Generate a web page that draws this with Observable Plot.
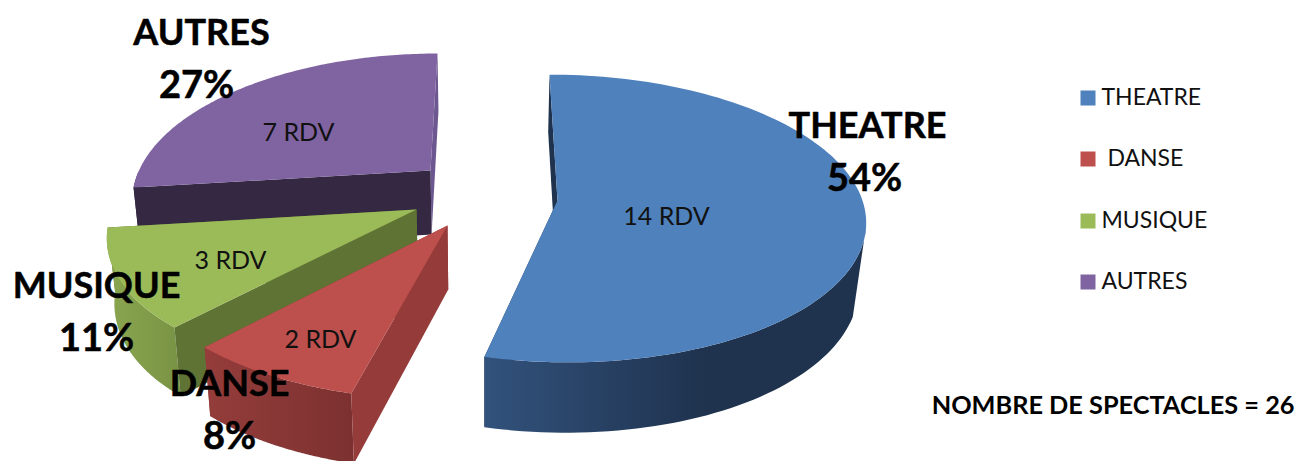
<!DOCTYPE html>
<html>
<head>
<meta charset="utf-8">
<script src="https://cdn.jsdelivr.net/npm/d3@7"></script>
<script src="https://cdn.jsdelivr.net/npm/@observablehq/plot@0.6"></script>
<style>
  html, body { margin: 0; padding: 0; background: #fff; }
  svg { display: block; }
</style>
</head>
<body>
<div id="chart"></div>
<script>
// ---- data
const categories = ["THEATRE", "DANSE", "MUSIQUE", "AUTRES"];
const counts = [14, 2, 3, 7];
const percentLabels = ["54%", "8%", "11%", "27%"];
const legendLabels = ["THEATRE", " DANSE", "MUSIQUE", "AUTRES"];
const totalLabel = "NOMBRE DE SPECTACLES = 26";

// ---- colours
const topColors = ["#4f81bd", "#bd4f4c", "#9bbb59", "#8064a2"];
const startWallColors = ["#1f334f", "#953b3a", "#5f7335", "#342843"];
const endWallColors = ["#1f334f", "#953b3a", "#5f7335", "#6c5790"];
const rimFills = ["url(#rim0)", "url(#rim1)", "url(#rim2)", "#342843"];

// ---- 3D look: per-slice projection of the exploded pie
const projection = [
  {ox: 557, oy: 200, a: 305, b: 141.6, k: 0.125, sh: -9, rimTopMax: -0.17, rimLowMax: -0.33},
  {ox: 447, oy: 225, a: 302, b: 136, k: 0.22, sh: 3.5, rimTopMax: 0, rimLowMax: 0},
  {ox: 416, oy: 209, a: 304, b: 148.6, k: 0.076, sh: 35.6, rimTopMax: 0, rimLowMax: 0},
  {ox: 430, oy: 170, a: 291.5, b: 138.5, k: 0.184, sh: 8.3, rimTopMax: 0, rimLowMax: 0}
];
const depth = 64, depthTilt = 0.1, vanishX = 484, vanishF = 0.02;
const paintOrder = [3, 0, 2, 1];

const total = d3.sum(counts);
const cumulative = d3.cumsum(counts);
const angleRange = i => [
  ((i === 0 ? 0 : cumulative[i - 1]) / total) * 2 * Math.PI,
  (cumulative[i] / total) * 2 * Math.PI
];

function rimTop(i, t) {
  const p = projection[i], c = Math.cos(t), s = Math.sin(t), f = 1 / (1 + p.k * c);
  return {x: p.ox + (p.a * s + p.sh * c) * f, y: p.oy - p.b * c * f, c};
}
function lower(pt, c) {
  return {x: pt.x - (pt.x - vanishX) * vanishF, y: pt.y + depth * (1 - depthTilt * c), c};
}
function apexTop(i) { return {x: projection[i].ox, y: projection[i].oy}; }

function polygon(points, fill) {
  return Plot.line(points, {x: "x", y: "y", fill, stroke: "none", curve: "linear-closed"});
}

const sliceMarks = paintOrder.flatMap(i => {
  const [t0, t1] = angleRange(i);
  const thetas = d3.range(0, 121).map(j => t0 + (t1 - t0) * j / 120);
  const rim = thetas.map(t => rimTop(i, t));
  const rimLow = rim.map(r => lower(r, r.c));
  const front = rim.filter(r => r.c <= projection[i].rimTopMax);
  const frontLow = rimLow.filter(r => r.c <= projection[i].rimLowMax);
  const apex = apexTop(i);
  const apexLow = lower(apex, 0);
  const wall = (r, rl) => [r, rl, apexLow, apex];
  return [
    polygon(wall(rim[rim.length - 1], rimLow[rimLow.length - 1]), endWallColors[i]),
    polygon(front.concat(frontLow.slice().reverse()), rimFills[i]),
    polygon(wall(rim[0], rimLow[0]), startWallColors[i]),
    polygon([apex].concat(rim), topColors[i])
  ];
});

// ---- text layout
const font = "Lato, Carlito, sans-serif";
const labelX = [867, 229, 96, 201];
const nameY = [126, 384, 286, 33];
const pctX = [864, 229, 96, 196];
const pctY = [178, 436, 338, 85];
const rdvX = [666, 320, 230, 298];
const rdvY = [216, 339, 260, 132];
const legendY = [97.5, 158.5, 220.5, 281.5];

const names = categories.map((c, i) => ({t: c, x: labelX[i], y: nameY[i]}));
const pcts = percentLabels.map((c, i) => ({t: c, x: pctX[i], y: pctY[i]}));
const rdvs = counts.map((c, i) => ({t: c + " RDV", x: rdvX[i], y: rdvY[i]}));
const legend = legendLabels.map((c, i) => ({t: c, y: legendY[i], color: topColors[i]}));

const gradient = (id, x1, x2, stops) => {
  const ns = "http://www.w3.org/2000/svg";
  const g = document.createElementNS(ns, "linearGradient");
  g.setAttribute("id", id);
  g.setAttribute("gradientUnits", "userSpaceOnUse");
  g.setAttribute("x1", x1); g.setAttribute("x2", x2);
  g.setAttribute("y1", 0); g.setAttribute("y2", 0);
  stops.forEach(([o, c]) => {
    const s = document.createElementNS(ns, "stop");
    s.setAttribute("offset", o); s.setAttribute("stop-color", c);
    g.appendChild(s);
  });
  return g;
};
const defs = () => {
  const ns = "http://www.w3.org/2000/svg";
  const d = document.createElementNS(ns, "defs");
  d.appendChild(gradient("rim0", 484, 700, [[0, "#32527c"], [1, "#1f334f"]]));
  d.appendChild(gradient("rim1", 205, 352, [[0, "#943d3b"], [1, "#7c3130"]]));
  d.appendChild(gradient("rim2", 107, 205, [[0, "#8ba650"], [1, "#728c40"]]));
  return d;
};

const bold = {fontWeight: 700, fill: "#000", stroke: "#000", strokeWidth: 0.5, fontFamily: font};

const plot = Plot.plot({
  width: 1298,
  height: 461,
  margin: 0,
  style: {background: "#fff", fontFamily: font},
  x: {domain: [0, 1298], range: [0, 1298], axis: null},
  y: {domain: [0, 461], range: [0, 461], axis: null},
  marks: [
    defs,
    ...sliceMarks,
    Plot.text(rdvs, {x: "x", y: "y", text: "t", fontSize: 25, fill: "#111", fontFamily: font}),
    Plot.text(names, {x: "x", y: "y", text: "t", fontSize: 36, ...bold}),
    Plot.text(pcts, {x: "x", y: "y", text: "t", fontSize: 38, ...bold}),
    Plot.dot(legend, {x: () => 1087.5, y: "y", symbol: "square", r: 8.46, fill: "color", stroke: "none"}),
    Plot.text(legend, {x: () => 1101, y: "y", text: "t", textAnchor: "start", fontSize: 23, fill: "#111", fontFamily: font, style: "white-space:pre"}),
    Plot.text([totalLabel], {x: () => 1294, y: () => 405, text: d => d, textAnchor: "end", fontSize: 25.3, fontWeight: 700, fill: "#000", fontFamily: font})
  ]
});
document.getElementById("chart").appendChild(plot);
</script>
</body>
</html>
